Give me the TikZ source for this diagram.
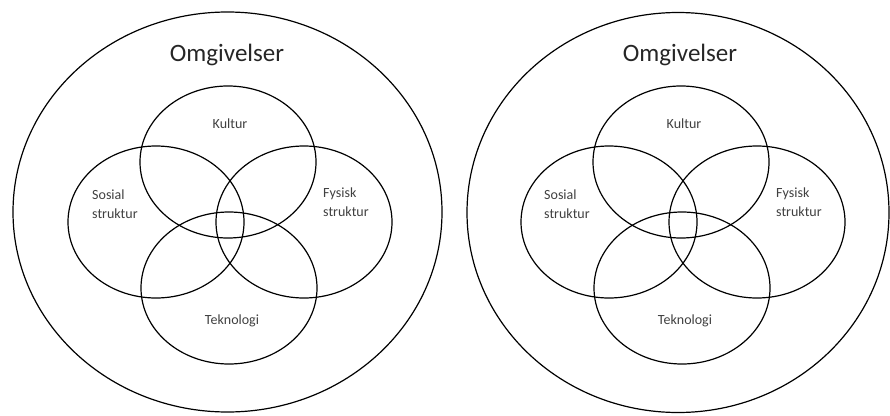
\documentclass[tikz,border=0pt]{standalone}
\usepackage{fontspec}
\setmainfont{Carlito}
\tikzset{
  ring/.style={draw=black, line width=1.2pt},
  title/.style={anchor=base, inner sep=0pt, text=black!85, font=\fontsize{25}{30}\selectfont},
  part/.style={inner sep=0pt, text=black!75, align=left, font=\fontsize{14}{18.5}\selectfont}
}
\begin{document}
\begin{tikzpicture}[x=1pt, y=-1pt]
\useasboundingbox (0,0) rectangle (890,415);
% left
\draw[ring] (227.5,212) ellipse [x radius=214.5pt, y radius=200pt];
\draw[ring] (228,162) ellipse [x radius=88pt, y radius=76pt];
\draw[ring] (156,222) ellipse [x radius=88pt, y radius=76pt];
\draw[ring] (304,222) ellipse [x radius=88pt, y radius=76pt];
\draw[ring] (229,288) ellipse [x radius=88pt, y radius=76pt];
\node[title] (omgA) at (227,61) {Omgivelser};
\node[part, anchor=base] (kulturA) at (230,128) {Kultur};
\node[part, anchor=base west] (sosialA) at (92,218) {Sosial\\struktur};
\node[part, anchor=base west] (fysiskA) at (323,216) {Fysisk\\struktur};
\node[part, anchor=base] (teknoA) at (232,324) {Teknologi};
% right
\draw[ring] (678,212.5) ellipse [x radius=211pt, y radius=200pt];
\draw[ring] (681,162) ellipse [x radius=88pt, y radius=76pt];
\draw[ring] (609,222) ellipse [x radius=88pt, y radius=76pt];
\draw[ring] (757,222) ellipse [x radius=88pt, y radius=76pt];
\draw[ring] (682,288) ellipse [x radius=88pt, y radius=76pt];
\node[title] (omgB) at (680,61) {Omgivelser};
\node[part, anchor=base] (kulturB) at (684,128) {Kultur};
\node[part, anchor=base west] (sosialB) at (544,218) {Sosial\\struktur};
\node[part, anchor=base west] (fysiskB) at (776,216) {Fysisk\\struktur};
\node[part, anchor=base] (teknoB) at (685,324) {Teknologi};
\end{tikzpicture}
\end{document}
